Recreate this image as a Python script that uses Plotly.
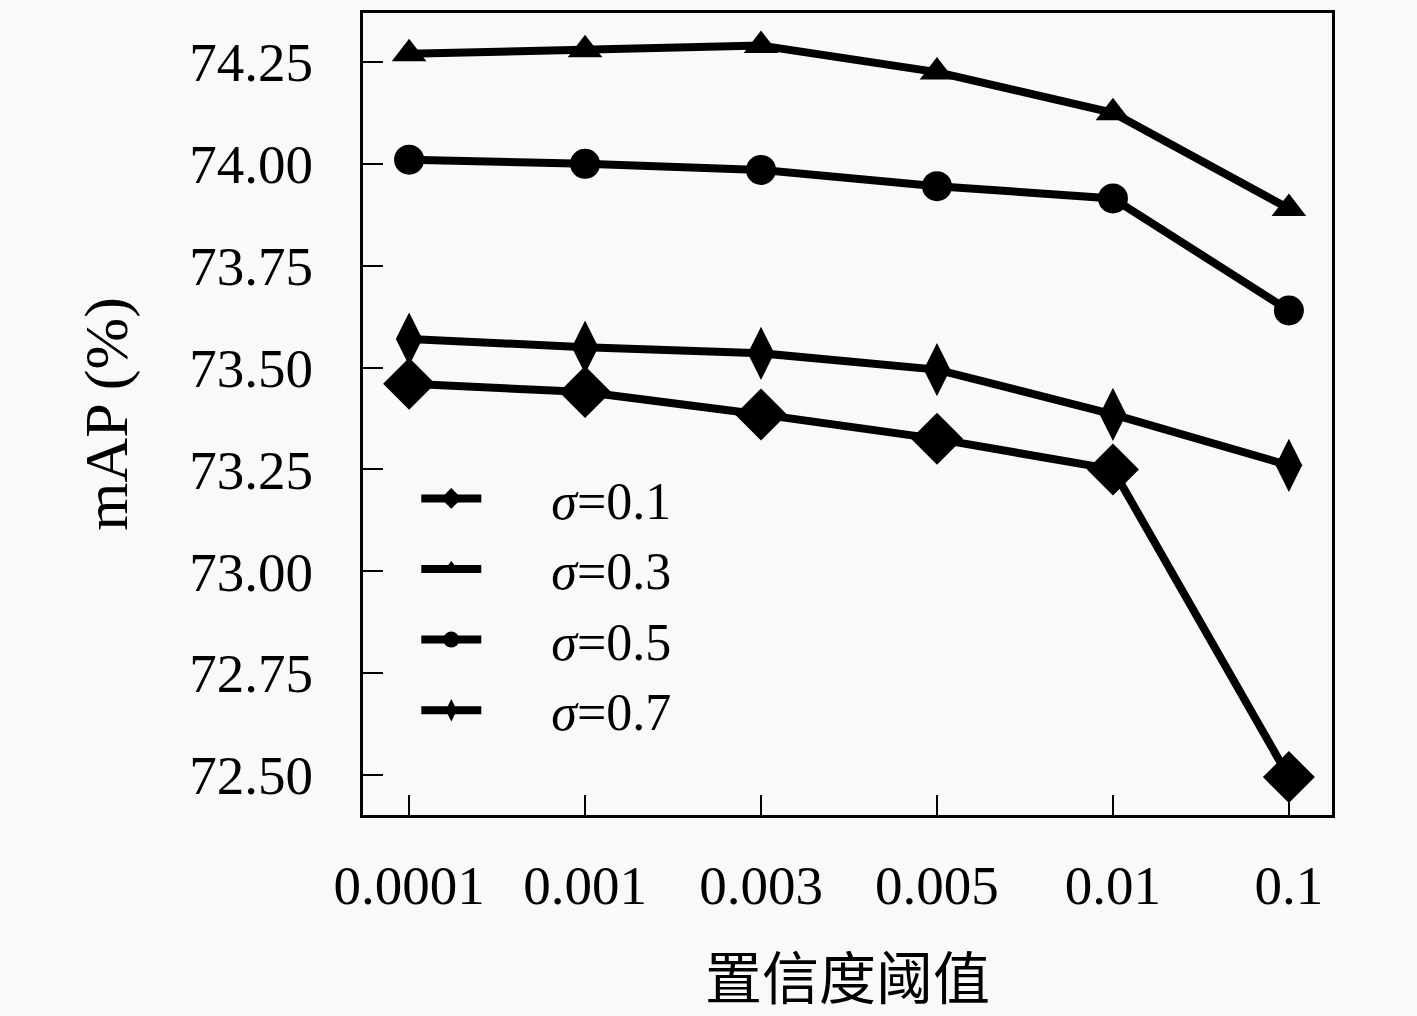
import plotly.graph_objects as go

# confidence thresholds (categorical x axis)
thresholds = ["0.0001", "0.001", "0.003", "0.005", "0.01", "0.1"]

# mAP (%) for each sigma
map_s01 = [73.46, 73.44, 73.385, 73.325, 73.25, 72.495]
map_s03 = [74.27, 74.28, 74.29, 74.225, 74.125, 73.89]
map_s05 = [74.01, 74.00, 73.985, 73.945, 73.915, 73.64]
map_s07 = [73.57, 73.55, 73.535, 73.495, 73.385, 73.26]

y_ticks = [72.50, 72.75, 73.00, 73.25, 73.50, 73.75, 74.00, 74.25]

series = [
    ("<i>σ</i>=0.1", map_s01, "diamond", 40),
    ("<i>σ</i>=0.3", map_s03, "triangle-up", 30),
    ("<i>σ</i>=0.5", map_s05, "circle", 30),
    ("<i>σ</i>=0.7", map_s07, "diamond-tall", 38),
]

fig = go.Figure()
for name, vals, sym, size in series:
    fig.add_trace(go.Scatter(
        x=thresholds, y=vals, name="\u00a0" * 5 + name, mode="lines+markers",
        line=dict(color="black", width=8),
        marker=dict(symbol=sym, size=size, color="black"),
    ))

axis_font = dict(family="Liberation Serif", size=55, color="black")

# page is shown with an 8px body margin, so margins are shifted by that
fig.update_layout(
    width=1417, height=1016,
    margin=dict(l=355, r=93, t=2, b=209),
    paper_bgcolor="#f9f9f9", plot_bgcolor="#f9f9f9",
    font=axis_font,
    showlegend=True,
    legend=dict(
        x=0.055, y=0.445, xanchor="left", yanchor="top",
        bgcolor="rgba(0,0,0,0)",
        font=dict(family="Liberation Serif", size=52, color="black"),
        itemwidth=60, tracegroupgap=0,
    ),
)

fig.update_xaxes(
    type="category", range=[-0.262, 5.245],
    showline=True, linecolor="black", linewidth=3, mirror=True,
    ticks="inside", ticklen=20, tickwidth=2, tickcolor="black",
    showgrid=False, zeroline=False,
    tickfont=axis_font, ticklabelstandoff=20,
    title=dict(text="置信度阈值", font=dict(family="Noto Sans CJK SC", size=57, color="black"), standoff=45),
)
fig.update_yaxes(
    range=[72.402, 74.37],
    tickvals=y_ticks, ticktext=[f"{v:.2f}" for v in y_ticks],
    showline=True, linecolor="black", linewidth=3, mirror=True,
    ticks="inside", ticklen=20, tickwidth=2, tickcolor="black",
    showgrid=False, zeroline=False,
    tickfont=axis_font, ticklabelstandoff=36,
    title=dict(text="mAP (%)", font=dict(family="Liberation Serif", size=62, color="black"), standoff=42),
)

fig.write_html("out.html", post_script="document.body.style.background='#f9f9f9';")
